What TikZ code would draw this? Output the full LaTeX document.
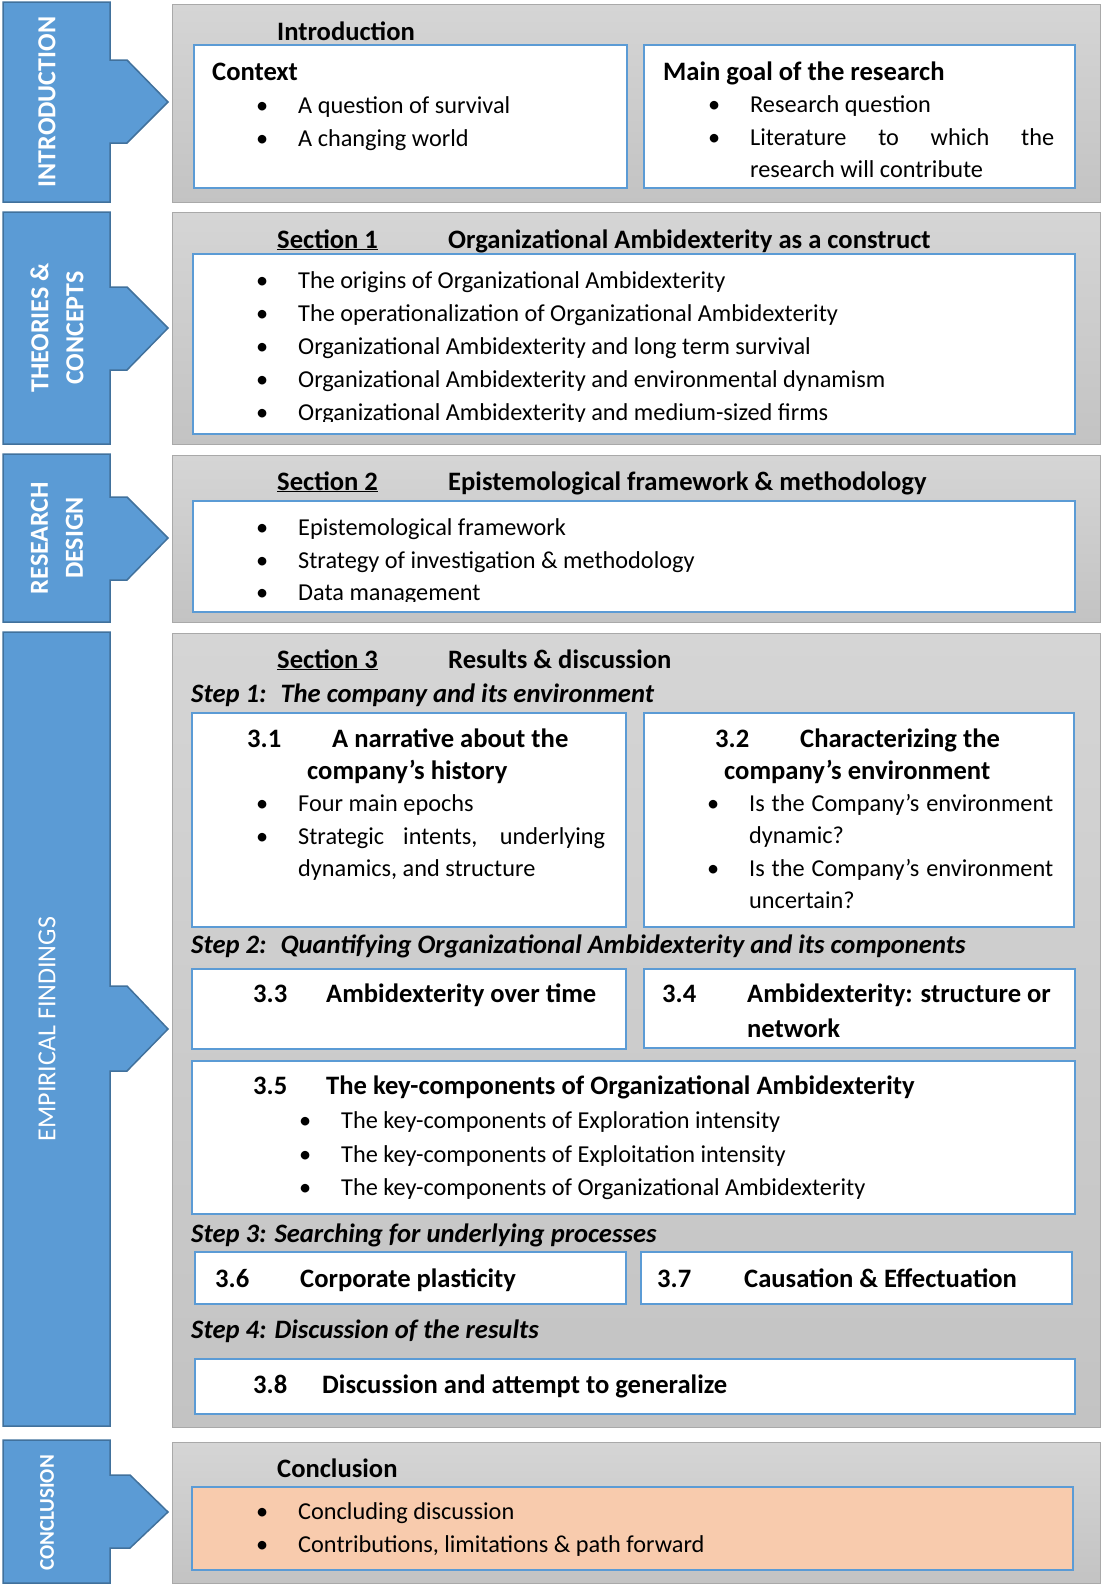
\documentclass[tikz,border=0pt]{standalone}
\usepackage{fontspec}
\setmainfont{Carlito}
\definecolor{tagblue}{HTML}{5B9BD5}
\definecolor{tagedge}{HTML}{41719C}
\definecolor{boxedge}{HTML}{5B9BD5}
\definecolor{panelhi}{HTML}{D5D5D5}
\definecolor{panello}{HTML}{C3C3C3}
\definecolor{paneledge}{HTML}{A9A9A9}
\definecolor{peach}{HTML}{F8CBAD}
\newcommand{\bdot}{\llap{\textbullet\hspace{30pt}}}
\begin{document}
\begin{tikzpicture}[x=1pt, y=-1pt,
    panel/.style={draw=paneledge, line width=1.2pt, top color=panelhi,
                  bottom color=panello, anchor=north west, inner sep=0pt},
    inbox/.style={draw=boxedge, line width=2pt, fill=white,
                  anchor=north west, inner sep=0pt},
    tagshape/.style={draw=tagedge, line width=1.5pt, fill=tagblue},
    tag/.style={text=white, font=\bfseries\fontsize{26}{35}\selectfont,
                rotate=90, align=center},
    txt/.style={anchor=base west, inner sep=0pt, font=\fontsize{24.3}{28}\selectfont},
    hd/.style={txt, font=\bfseries\fontsize{26.6}{30}\selectfont},
    stp/.style={txt, font=\bfseries\itshape\fontsize{26.6}{30}\selectfont}
]
\useasboundingbox (0,0) rectangle (1102,1585);

% left tags
\draw[tagshape] (3,2) -- (110,2) -- (110,60) -- (127,60) -- (168,102) -- (127,143)
  -- (110,143) -- (110,202) -- (3,202) -- cycle;
\draw[tagshape] (3,212) -- (110,212) -- (110,287) -- (127,287) -- (168,328) -- (127,370)
  -- (110,370) -- (110,444) -- (3,444) -- cycle;
\draw[tagshape] (3,454) -- (110,454) -- (110,497) -- (127,497) -- (168,538) -- (127,580)
  -- (110,580) -- (110,622) -- (3,622) -- cycle;
\draw[tagshape] (3,632) -- (110,632) -- (110,986) -- (127,986) -- (168,1029) -- (127,1071)
  -- (110,1071) -- (110,1426) -- (3,1426) -- cycle;
\draw[tagshape] (3,1440) -- (110,1440) -- (110,1475) -- (130,1475) -- (168,1512) -- (130,1548)
  -- (110,1548) -- (110,1583) -- (3,1583) -- cycle;

\node[tag] (tintro) at (47,102) {INTRODUCTION};
\node[tag] (ttheo) at (57,328) {THEORIES \&\\CONCEPTS};
\node[tag] (tdesign) at (57,538) {RESEARCH\\DESIGN};
\node[tag, font=\fontsize{26}{35}\selectfont] (temp) at (47,1029) {EMPIRICAL FINDINGS};
\node[tag, font=\bfseries\fontsize{21}{25}\selectfont] (tconcl) at (47,1513) {CONCLUSION};

% grey panels
\node[panel, minimum width=928pt, minimum height=198pt] (pintro) at (172,4) {};
\node[panel, minimum width=928pt, minimum height=232pt] (ptheo) at (172,212) {};
\node[panel, minimum width=928pt, minimum height=167pt] (pdesign) at (172,455) {};
\node[panel, minimum width=928pt, minimum height=794pt] (pemp) at (172,633) {};
\node[panel, minimum width=928pt, minimum height=141pt] (pconcl) at (172,1442) {};

% introduction
\node[hd] (hintro) at (277,40) {Introduction};
\node[inbox, minimum width=433pt, minimum height=143pt] (ctx) at (193,44) {};
\node[inbox, minimum width=431pt, minimum height=143pt] (goal) at (643,44) {};
\node[hd] (hctx) at (212,80) {Context};
\node[txt] (c1) at (298,113) {\bdot A question of survival};
\node[txt] (c2) at (298,146) {\bdot A changing world};
\node[hd] (hgoal) at (663,80) {Main goal of the research};
\node[txt] (g1) at (750,112) {\bdot Research question};
\node[txt] (g2) at (750,145) {\bdot\makebox[304pt][s]{Literature to which the}};
\node[txt] (g3) at (750,177) {research will contribute};

% section 1
\node[hd] (hs1) at (277,248) {\underline{Section 1}};
\node[hd] (ts1) at (448,248) {Organizational Ambidexterity as a construct};
\node[inbox, minimum width=882pt, minimum height=180pt] (s1box) at (192,253) {};
\begin{scope}
\clip (192,253) rectangle (1074,421);
\node[txt] (s1a) at (298,288) {\bdot The origins of Organizational Ambidexterity};
\node[txt] (s1b) at (298,321) {\bdot The operationalization of Organizational Ambidexterity};
\node[txt] (s1c) at (298,354) {\bdot Organizational Ambidexterity and long term survival};
\node[txt] (s1d) at (298,387) {\bdot Organizational Ambidexterity and environmental dynamism};
\node[txt] (s1e) at (298,420) {\bdot Organizational Ambidexterity and medium-sized firms};
\end{scope}

% section 2
\node[hd] (hs2) at (277,490) {\underline{Section 2}};
\node[hd] (ts2) at (448,490) {Epistemological framework \& methodology};
\node[inbox, minimum width=882pt, minimum height=111pt] (s2box) at (192,500) {};
\begin{scope}
\clip (192,500) rectangle (1074,601);
\node[txt] (s2a) at (298,535) {\bdot Epistemological framework};
\node[txt] (s2b) at (298,568) {\bdot Strategy of investigation \& methodology};
\node[txt] (s2c) at (298,600) {\bdot Data management};
\end{scope}

% section 3
\node[hd] (hs3) at (277,668) {\underline{Section 3}};
\node[hd] (ts3) at (448,668) {Results \& discussion};
\node[stp] (st1) at (191,702) {Step 1:\hspace{6pt} The company and its environment};
\node[inbox, minimum width=434pt, minimum height=214pt] (b31) at (191,712) {};
\node[inbox, minimum width=430pt, minimum height=214pt] (b32) at (643,712) {};
\node[hd] (n31) at (247,747) {3.1};
\node[hd] (h31a) at (332,747) {A narrative about the};
\node[hd] (h31b) at (307,779) {company’s history};
\node[txt] (l31a) at (298,811) {\bdot Four main epochs};
\node[txt] (l31b) at (298,844) {\bdot\makebox[307pt][s]{Strategic intents, underlying}};
\node[txt] (l31c) at (298,876) {dynamics, and structure};
\node[hd] (n32) at (715,747) {3.2};
\node[hd] (h32a) at (800,747) {Characterizing the};
\node[hd] (h32b) at (724,779) {company’s environment};
\node[txt] (l32a) at (749,811) {\bdot\makebox[304pt][s]{Is the Company’s environment}};
\node[txt] (l32b) at (749,843) {dynamic?};
\node[txt] (l32c) at (749,876) {\bdot\makebox[304pt][s]{Is the Company’s environment}};
\node[txt] (l32d) at (749,908) {uncertain?};

\node[stp] (st2) at (191,953) {Step 2:\hspace{6pt} Quantifying Organizational Ambidexterity and its components};
\node[inbox, minimum width=434pt, minimum height=80pt] (b33) at (191,968) {};
\node[inbox, minimum width=431pt, minimum height=79pt] (b34) at (643,968) {};
\node[hd] (n33) at (253,1002) {3.3};
\node[hd] (h33) at (326,1002) {Ambidexterity over time};
\node[hd] (n34) at (662,1002) {3.4};
\node[hd] (h34a) at (747,1002) {Ambidexterity: structure or};
\node[hd] (h34b) at (747,1037) {network};
\node[inbox, minimum width=883pt, minimum height=153pt] (b35) at (191,1060) {};
\node[hd] (n35) at (253,1094) {3.5};
\node[hd] (h35) at (326,1094) {The key-components of Organizational Ambidexterity};
\node[txt] (l35a) at (341,1128) {\bdot The key-components of Exploration intensity};
\node[txt] (l35b) at (341,1162) {\bdot The key-components of Exploitation intensity};
\node[txt] (l35c) at (341,1195) {\bdot The key-components of Organizational Ambidexterity};

\node[stp] (st3) at (191,1242) {Step 3: Searching for underlying processes};
\node[inbox, minimum width=431pt, minimum height=52pt] (b36) at (194,1251) {};
\node[inbox, minimum width=431pt, minimum height=52pt] (b37) at (640,1251) {};
\node[hd] (n36) at (215,1287) {3.6};
\node[hd] (h36) at (300,1287) {Corporate plasticity};
\node[hd] (n37) at (657,1287) {3.7};
\node[hd] (h37) at (744,1287) {Causation \& Effectuation};

\node[stp] (st4) at (191,1338) {Step 4: Discussion of the results};
\node[inbox, minimum width=880pt, minimum height=55pt] (b38) at (194,1358) {};
\node[hd] (n38) at (253,1393) {3.8};
\node[hd] (h38) at (322,1393) {Discussion and attempt to generalize};

% conclusion
\node[hd] (hconcl) at (277,1477) {Conclusion};
\node[inbox, fill=peach, minimum width=881pt, minimum height=83pt] (cbox) at (191,1486) {};
\node[txt] (k1) at (298,1519) {\bdot Concluding discussion};
\node[txt] (k2) at (298,1552) {\bdot Contributions, limitations \& path forward};

\end{tikzpicture}
\end{document}
